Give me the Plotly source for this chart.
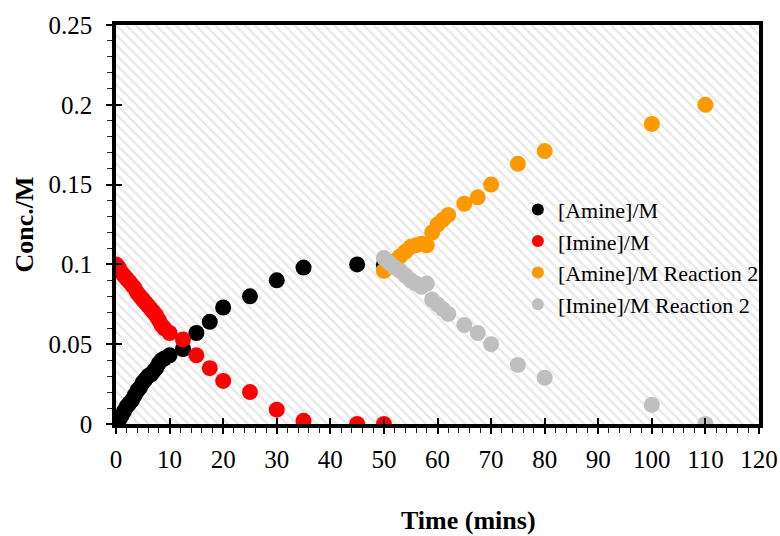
import plotly.graph_objects as go

# ---- data ----
t_r1 = [0, 0.5, 1, 1.5, 2, 2.5, 3, 3.5, 4, 4.5, 5, 5.5, 6, 6.5, 7, 7.5, 8, 8.5, 9, 10,
        12.5, 15, 17.5, 20, 25, 30, 35, 45, 50]
amine_r1 = [0.000, 0.002, 0.005, 0.008, 0.011, 0.013, 0.015, 0.018, 0.021, 0.023, 0.026, 0.028,
            0.030, 0.031, 0.033, 0.035, 0.038, 0.040, 0.041, 0.043,
            0.047, 0.057, 0.064, 0.073, 0.080, 0.090, 0.098, 0.100, 0.100]
imine_r1 = [0.100, 0.098, 0.095, 0.093, 0.091, 0.089, 0.087, 0.085, 0.082, 0.080, 0.078, 0.076,
            0.074, 0.072, 0.070, 0.068, 0.065, 0.062, 0.060, 0.057,
            0.053, 0.043, 0.035, 0.027, 0.020, 0.009, 0.002, 0.000, 0.000]

t_r2 = [50, 51, 52, 53, 54, 55, 56, 57, 58, 59, 60, 61, 62, 65, 67.5, 70, 75, 80, 100, 110]
amine_r2 = [0.096, 0.099, 0.102, 0.105, 0.108, 0.111, 0.112, 0.113, 0.112, 0.120, 0.125, 0.128,
            0.131, 0.138, 0.142, 0.150, 0.163, 0.171, 0.188, 0.200]
imine_r2 = [0.104, 0.101, 0.098, 0.096, 0.093, 0.090, 0.088, 0.086, 0.088, 0.078, 0.075, 0.072,
            0.069, 0.062, 0.057, 0.050, 0.037, 0.029, 0.012, 0.000]

series_names = ["[Amine]/M", "[Imine]/M", "[Amine]/M Reaction 2", "[Imine]/M Reaction 2"]
series_colors = ["#000000", "#ff0000", "#ff9900", "#bfbfbf"]

X_RANGE = [0, 120]
Y_RANGE = [0, 0.25]
x_ticks = list(range(0, 121, 10))
y_ticks = [0, 0.05, 0.1, 0.15, 0.2, 0.25]
y_tick_text = ["0", "0.05", "0.1", "0.15", "0.2", "0.25"]
x_title = "Time (mins)"
y_title = "Conc./M"

FONT = "Liberation Serif, Times New Roman, serif"

fig = go.Figure()

# hatched plot-area background
fig.add_trace(go.Scatter(
    x=[X_RANGE[0], X_RANGE[1], X_RANGE[1], X_RANGE[0], X_RANGE[0]],
    y=[Y_RANGE[0], Y_RANGE[0], Y_RANGE[1], Y_RANGE[1], Y_RANGE[0]],
    mode="lines", line=dict(width=0), fill="toself", fillcolor="rgba(0,0,0,0)",
    fillpattern=dict(shape="\\", fgcolor="#d2d2d2", bgcolor="white", size=7, solidity=0.35),
    hoverinfo="skip", showlegend=False))

xs = [t_r1, t_r1, t_r2, t_r2]
ys = [amine_r1, imine_r1, amine_r2, imine_r2]
for i, (name, col) in enumerate(zip(series_names, series_colors)):
    fig.add_trace(go.Scatter(
        x=xs[i], y=ys[i], mode="markers", name=name, legendgroup=name,
        marker=dict(color=col, size=16, line=dict(width=0))))

# overlay axes for the inside part of major ticks
fig.add_trace(go.Scatter(x=[None], y=[None], xaxis="x2", yaxis="y2", showlegend=False))

axis_common = dict(showgrid=False, zeroline=False, showline=True, linecolor="black",
                   linewidth=3.5, mirror=True, automargin=False)

PW, PH = 643, 399  # plot area size in px (for placing titles)

fig.update_layout(
    width=780, height=536,
    margin=dict(l=116, r=21, t=25, b=112),
    paper_bgcolor="white", plot_bgcolor="white",
    font=dict(family=FONT, color="black"),
    showlegend=True,
    legend=dict(x=0.625, y=0.59, xanchor="left", yanchor="top",
                bgcolor="rgba(0,0,0,0)", font=dict(family=FONT, size=22, color="black"),
                itemsizing="constant", tracegroupgap=0, itemwidth=30),
    xaxis=dict(range=X_RANGE, tickvals=x_ticks, ticks="outside", ticklen=6, tickwidth=1.5,
               tickcolor="black", tickfont=dict(family=FONT, size=25), ticklabelstandoff=4,
               minor=dict(dtick=2, ticks="outside", ticklen=5, tickwidth=1, tickcolor="#222"),
               **axis_common),
    yaxis=dict(range=Y_RANGE, tickvals=y_ticks, ticktext=y_tick_text, ticks="outside", ticklen=6,
               tickwidth=1.5, tickcolor="black", tickfont=dict(family=FONT, size=25),
               ticklabelstandoff=9,
               minor=dict(dtick=0.01, ticks="outside", ticklen=5, tickwidth=1, tickcolor="#222"),
               **axis_common),
    xaxis2=dict(range=X_RANGE, overlaying="x", tickvals=x_ticks, ticks="inside", ticklen=6,
                tickwidth=1.5, tickcolor="black", showticklabels=False, showgrid=False,
                zeroline=False, showline=False, automargin=False),
    yaxis2=dict(range=Y_RANGE, overlaying="y", tickvals=y_ticks, ticks="inside", ticklen=6,
                tickwidth=1.5, tickcolor="black", showticklabels=False, showgrid=False,
                zeroline=False, showline=False, automargin=False),
    annotations=[
        dict(text="<b>" + x_title + "</b>", xref="paper", yref="paper",
             x=(468 - 116) / PW, y=-(520 - 424) / PH, xanchor="center", yanchor="middle",
             showarrow=False, font=dict(family=FONT, size=26, color="black")),
        dict(text="<b>" + y_title + "</b>", xref="paper", yref="paper",
             x=-(116 - 24) / PW, y=0.5, xanchor="center", yanchor="middle", textangle=-90,
             showarrow=False, font=dict(family=FONT, size=26, color="black")),
    ],
)

# remove the default page margin so the figure sits at the window's top-left corner
fig.write_html("out.html", config={"displayModeBar": False},
               post_script="document.body.style.margin='0';")
